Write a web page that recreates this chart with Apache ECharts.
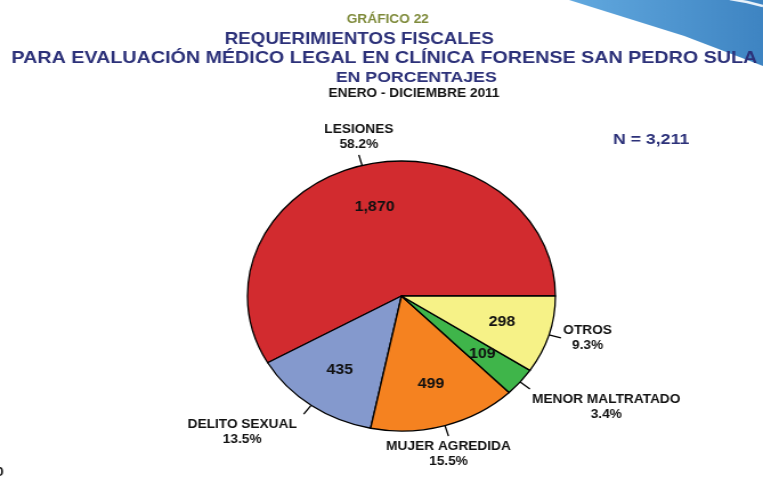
<!DOCTYPE html>
<html lang="es">
<head>
<meta charset="UTF-8">
<title>Gráfico 22</title>
<style>
    html, body { margin: 0; padding: 0; background: #fff; overflow: hidden; }
    /* the reference is stretched sideways, so the whole chart is drawn narrow and widened */
    #chart {
        width: 669px;
        height: 482px;
        transform: scaleX(1.1405);
        transform-origin: 0 0;
    }
</style>
</head>
<body>
<div id="chart"></div>
<script src="https://cdn.jsdelivr.net/npm/echarts@6/dist/echarts.min.js"></script>
<script>
    // datos
    const categories = ['LESIONES', 'DELITO SEXUAL', 'MUJER AGREDIDA', 'MENOR MALTRATADO', 'OTROS']
    const values = [1870, 435, 499, 109, 298]
    const colors = ['#D22B2F', '#8499CD', '#F58220', '#3FB54A', '#F6F287']

    const heading = 'GRÁFICO 22'
    const titleLines = [
        'REQUERIMIENTOS FISCALES',
        'PARA EVALUACIÓN MÉDICO LEGAL EN CLÍNICA FORENSE SAN PEDRO SULA',
        'EN PORCENTAJES'
    ]
    const period = 'ENERO - DICIEMBRE 2011'

    const total = values.reduce((a, b) => a + b, 0)
    const fmt = v => v.toLocaleString('en-US')
    const pct = v => (v / total * 100).toFixed(1) + '%'

    const FONT = '"Liberation Sans", Arial, sans-serif'
    const NAVY = '#2C3179'

    const chart = echarts.init(document.getElementById('chart'))

    const pieData = categories.map((name, i) => ({
        name: name,
        value: values[i],
        itemStyle: { color: colors[i] }
    }))

    chart.setOption({
        animation: false,
        graphic: [
            {
                // franja azul de la esquina
                type: 'polygon',
                shape: { points: [[499, 0], [669, 0], [669, 66], [600, 36]] },
                style: {
                    fill: new echarts.graphic.LinearGradient(0, 0, 1, 0, [
                        { offset: 0, color: '#62A9DF' },
                        { offset: 1, color: '#3E84C2' }
                    ])
                },
                z: 0
            },
            {
                type: 'polyline',
                shape: { points: [[640, -1], [655, 2], [669, 6]] },
                style: { stroke: '#E8F1FA', lineWidth: 2.5, fill: null },
                z: 1
            },
            {
                type: 'text', x: 340, y: 19.5,
                style: { text: heading, font: 'bold 12px ' + FONT, fill: '#7E8A3A', align: 'center', verticalAlign: 'middle' }
            },
            {
                type: 'text', x: 315, y: 39,
                style: { text: titleLines[0], font: 'bold 16.5px ' + FONT, fill: NAVY, align: 'center', verticalAlign: 'middle' }
            },
            {
                type: 'text', x: 337, y: 58.5,
                style: { text: titleLines[1], font: 'bold 17.3px ' + FONT, fill: NAVY, align: 'center', verticalAlign: 'middle' }
            },
            {
                type: 'text', x: 365, y: 77.5,
                style: { text: titleLines[2], font: 'bold 15.5px ' + FONT, fill: NAVY, align: 'center', verticalAlign: 'middle' }
            },
            {
                type: 'text', x: 363, y: 94,
                style: { text: period, font: 'bold 12px ' + FONT, fill: '#111', align: 'center', verticalAlign: 'middle' }
            },
            {
                type: 'text', x: 537.5, y: 139.5,
                style: { text: 'N = ' + fmt(total), font: 'bold 15.5px ' + FONT, fill: NAVY, align: 'left', verticalAlign: 'middle' }
            },
            {
                type: 'text', x: -3.5, y: 473,
                style: { text: '0', font: 'bold 12px ' + FONT, fill: '#111', align: 'left', verticalAlign: 'middle' }
            }
        ],
        series: [
            {
                // sectores con nombre y porcentaje afuera
                type: 'pie',
                center: [352, 296],
                radius: 135,
                startAngle: 0,
                clockwise: false,
                avoidLabelOverlap: false,
                silent: true,
                itemStyle: { borderColor: '#000', borderWidth: 1.3 },
                label: {
                    show: true,
                    position: 'outside',
                    color: '#111',
                    fontFamily: FONT,
                    fontWeight: 'bold',
                    fontSize: 12,
                    lineHeight: 15,
                    formatter: p => p.name + '\n' + pct(p.value)
                },
                labelLine: {
                    show: true,
                    length: 11,
                    length2: 0,
                    lineStyle: { color: '#000', width: 1.3 }
                },
                // texto pegado al extremo de la guía, como en Excel
                labelLayout: function (p) {
                    const pts = p.labelLinePoints
                    if (!pts) return {}
                    const a = pts[0], b = pts[1]
                    const len = Math.hypot(b[0] - a[0], b[1] - a[1]) || 1
                    const ux = (b[0] - a[0]) / len, uy = (b[1] - a[1]) / len
                    const w = p.labelRect.width, h = p.labelRect.height
                    let x = b[0], y = b[1]
                    if (ux > 0.35) x += 2 + w / 2
                    else if (ux < -0.35) x -= 6 + w / 2
                    if (uy > 0.35) y += 3 + h / 2
                    else if (uy < -0.35) y -= 3 + h / 2
                    return { x: x, y: y, align: 'center', verticalAlign: 'middle', labelLinePoints: [a, b, b] }
                },
                data: pieData
            },
            {
                // valores dentro de cada sector
                type: 'pie',
                center: [352, 296],
                radius: [43, 135],
                startAngle: 0,
                clockwise: false,
                silent: true,
                itemStyle: { color: 'transparent', borderWidth: 0 },
                label: {
                    show: true,
                    position: 'inside',
                    color: '#111',
                    fontFamily: FONT,
                    fontWeight: 'bold',
                    fontSize: 14,
                    formatter: p => fmt(p.value)
                },
                labelLine: { show: false },
                data: categories.map((name, i) => ({ name: name, value: values[i] }))
            }
        ]
    })
</script>
</body>
</html>
